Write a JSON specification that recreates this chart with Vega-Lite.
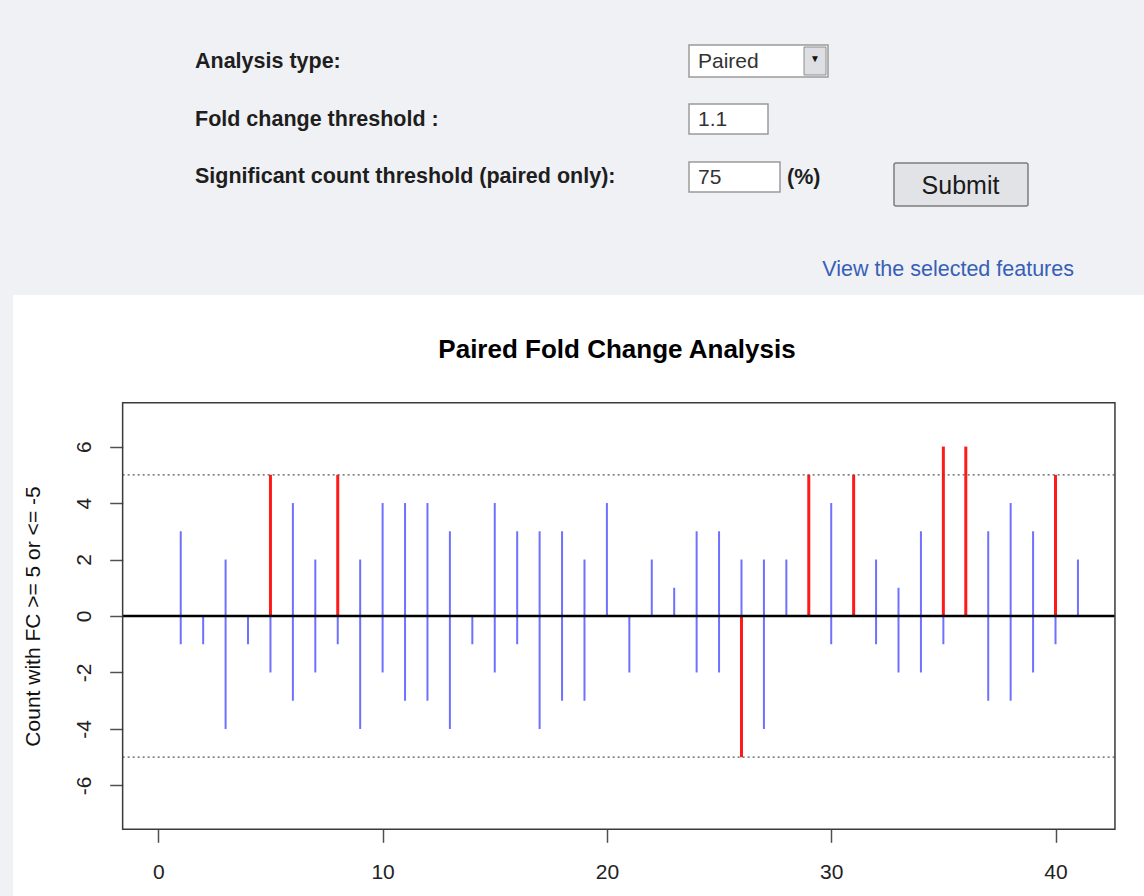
{
  "$schema": "https://vega.github.io/schema/vega-lite/v6.json",
  "padding": {"left": 13, "top": 0, "right": 0, "bottom": 0},
  "spacing": 0,
  "config": {
    "background": "#f0f1f5",
    "font": "Liberation Sans",
    "view": {"stroke": null}
  },
  "datasets": {
    "counts": [
      {"index": 1, "up": 3, "down": -1},
      {"index": 2, "up": 0, "down": -1},
      {"index": 3, "up": 2, "down": -4},
      {"index": 4, "up": 0, "down": -1},
      {"index": 5, "up": 5, "down": -2},
      {"index": 6, "up": 4, "down": -3},
      {"index": 7, "up": 2, "down": -2},
      {"index": 8, "up": 5, "down": -1},
      {"index": 9, "up": 2, "down": -4},
      {"index": 10, "up": 4, "down": -2},
      {"index": 11, "up": 4, "down": -3},
      {"index": 12, "up": 4, "down": -3},
      {"index": 13, "up": 3, "down": -4},
      {"index": 14, "up": 0, "down": -1},
      {"index": 15, "up": 4, "down": -2},
      {"index": 16, "up": 3, "down": -1},
      {"index": 17, "up": 3, "down": -4},
      {"index": 18, "up": 3, "down": -3},
      {"index": 19, "up": 2, "down": -3},
      {"index": 20, "up": 4, "down": 0},
      {"index": 21, "up": 0, "down": -2},
      {"index": 22, "up": 2, "down": 0},
      {"index": 23, "up": 1, "down": 0},
      {"index": 24, "up": 3, "down": -2},
      {"index": 25, "up": 3, "down": -2},
      {"index": 26, "up": 2, "down": -5},
      {"index": 27, "up": 2, "down": -4},
      {"index": 28, "up": 2, "down": 0},
      {"index": 29, "up": 5, "down": 0},
      {"index": 30, "up": 4, "down": -1},
      {"index": 31, "up": 5, "down": 0},
      {"index": 32, "up": 2, "down": -1},
      {"index": 33, "up": 1, "down": -2},
      {"index": 34, "up": 3, "down": -2},
      {"index": 35, "up": 6, "down": -1},
      {"index": 36, "up": 6, "down": 0},
      {"index": 37, "up": 3, "down": -3},
      {"index": 38, "up": 4, "down": -3},
      {"index": 39, "up": 3, "down": -2},
      {"index": 40, "up": 5, "down": -1},
      {"index": 41, "up": 2, "down": 0}
    ],
    "thresholds": [{"level": 5}, {"level": -5}],
    "one": [{}]
  },
  "vconcat": [
    {
      "width": 1131,
      "height": 295,
      "view": {"fill": null, "stroke": null},
      "data": {"name": "one"},
      "layer": [
        {
          "mark": {"type": "text", "text": "Analysis type:", "fontSize": 21.5, "fontWeight": "bold", "color": "#1e1e1e", "align": "left", "baseline": "middle"},
          "encoding": {
            "x": {"datum": 182, "type": "quantitative", "scale": {"domain": [0, 1131], "nice": false, "zero": false}, "axis": null},
            "y": {"datum": 62, "type": "quantitative", "scale": {"domain": [0, 295], "reverse": true, "nice": false, "zero": false}, "axis": null}
          }
        },
        {
          "mark": {"type": "text", "text": "Fold change threshold :", "fontSize": 21.5, "fontWeight": "bold", "color": "#1e1e1e", "align": "left", "baseline": "middle"},
          "encoding": {"x": {"datum": 182, "type": "quantitative"}, "y": {"datum": 120, "type": "quantitative"}}
        },
        {
          "mark": {"type": "text", "text": "Significant count threshold (paired only):", "fontSize": 21.5, "fontWeight": "bold", "color": "#1e1e1e", "align": "left", "baseline": "middle"},
          "encoding": {"x": {"datum": 182, "type": "quantitative"}, "y": {"datum": 177, "type": "quantitative"}}
        },
        {
          "mark": {"type": "rect", "fill": "white", "stroke": "#9a9a9a", "strokeWidth": 1.5},
          "encoding": {"x": {"datum": 676, "type": "quantitative"}, "x2": {"datum": 815}, "y": {"datum": 45, "type": "quantitative"}, "y2": {"datum": 77}}
        },
        {
          "mark": {"type": "rect", "fill": "#dedfe2", "stroke": "#8c8c8c", "strokeWidth": 1},
          "encoding": {"x": {"datum": 791, "type": "quantitative"}, "x2": {"datum": 813}, "y": {"datum": 47, "type": "quantitative"}, "y2": {"datum": 75}}
        },
        {
          "mark": {"type": "text", "text": "▼", "fontSize": 10, "color": "#111", "align": "center", "baseline": "middle"},
          "encoding": {"x": {"datum": 802, "type": "quantitative"}, "y": {"datum": 59, "type": "quantitative"}}
        },
        {
          "mark": {"type": "rect", "fill": "white", "stroke": "#9a9a9a", "strokeWidth": 1.5},
          "encoding": {"x": {"datum": 676, "type": "quantitative"}, "x2": {"datum": 755}, "y": {"datum": 104, "type": "quantitative"}, "y2": {"datum": 134}}
        },
        {
          "mark": {"type": "rect", "fill": "white", "stroke": "#9a9a9a", "strokeWidth": 1.5},
          "encoding": {"x": {"datum": 676, "type": "quantitative"}, "x2": {"datum": 767}, "y": {"datum": 162, "type": "quantitative"}, "y2": {"datum": 192}}
        },
        {
          "mark": {"type": "text", "text": "Paired", "fontSize": 21, "color": "#333", "align": "left", "baseline": "middle"},
          "encoding": {"x": {"datum": 685, "type": "quantitative"}, "y": {"datum": 62, "type": "quantitative"}}
        },
        {
          "mark": {"type": "text", "text": "1.1", "fontSize": 21, "color": "#333", "align": "left", "baseline": "middle"},
          "encoding": {"x": {"datum": 685, "type": "quantitative"}, "y": {"datum": 120, "type": "quantitative"}}
        },
        {
          "mark": {"type": "text", "text": "75", "fontSize": 21, "color": "#333", "align": "left", "baseline": "middle"},
          "encoding": {"x": {"datum": 685, "type": "quantitative"}, "y": {"datum": 178, "type": "quantitative"}}
        },
        {
          "mark": {"type": "text", "text": "(%)", "fontSize": 21.5, "fontWeight": "bold", "color": "#1e1e1e", "align": "left", "baseline": "middle"},
          "encoding": {"x": {"datum": 774, "type": "quantitative"}, "y": {"datum": 178, "type": "quantitative"}}
        },
        {
          "mark": {"type": "rect", "fill": "#e2e3e6", "stroke": "#7d7d7d", "strokeWidth": 1.5, "cornerRadius": 2},
          "encoding": {"x": {"datum": 881, "type": "quantitative"}, "x2": {"datum": 1015}, "y": {"datum": 163, "type": "quantitative"}, "y2": {"datum": 206}}
        },
        {
          "mark": {"type": "text", "text": "Submit", "fontSize": 25, "color": "#1a1a1a", "align": "center", "baseline": "middle"},
          "encoding": {"x": {"datum": 947.5, "type": "quantitative"}, "y": {"datum": 186, "type": "quantitative"}}
        },
        {
          "mark": {"type": "text", "text": "View the selected features", "fontSize": 21.5, "color": "#3660b5", "align": "right", "baseline": "middle"},
          "encoding": {"x": {"datum": 1061, "type": "quantitative"}, "y": {"datum": 270, "type": "quantitative"}}
        }
      ]
    },
    {
      "width": 1131,
      "height": 601,
      "view": {"fill": "white", "stroke": null},
      "layer": [
        {
          "data": {"name": "counts"},
          "mark": {"type": "rule"},
          "encoding": {
            "x": {
              "field": "index", "type": "quantitative",
              "scale": {"domain": [-6.478, 43.945], "nice": false, "zero": false},
              "axis": {"orient": "bottom", "offset": -66.7, "values": [0, 10, 20, 30, 40], "domain": false, "grid": false, "tickSize": 13, "tickColor": "#505050", "tickWidth": 1.5, "labelFontSize": 21, "labelColor": "#222", "labelPadding": 19, "labelBaseline": "top", "labelFlush": false, "labelOverlap": false, "title": null}
            },
            "y": {
              "field": "up", "type": "quantitative",
              "scale": {"domain": [-9.915, 11.367], "nice": false, "zero": false},
              "axis": {"orient": "left", "offset": -109.7, "values": [-6, -4, -2, 0, 2, 4, 6], "labelExpr": "datum.value < 0 ? '-' + abs(datum.value) : '' + datum.value", "domain": false, "grid": false, "tickSize": 13, "tickColor": "#505050", "tickWidth": 1.5, "labelFontSize": 21, "labelColor": "#222", "labelAngle": 270, "labelAlign": "center", "labelBaseline": "middle", "labelPadding": 25.5, "labelFlush": false, "labelOverlap": false, "title": "Count with FC >= 5 or <= -5", "titleFontSize": 21, "titleFontWeight": "normal", "titleColor": "#111", "titleAngle": 270, "titleAlign": "center", "titleBaseline": "middle", "titleX": -89.4, "titleY": 321}
            },
            "y2": {"datum": 0},
            "color": {"condition": {"test": "datum.up >= 5", "value": "#ff1a1a"}, "value": "#7070ff"},
            "strokeWidth": {"condition": {"test": "datum.up >= 5", "value": 3}, "value": 2}
          }
        },
        {
          "data": {"name": "counts"},
          "mark": {"type": "rule"},
          "encoding": {
            "x": {"field": "index", "type": "quantitative"},
            "y": {"field": "down", "type": "quantitative"},
            "y2": {"datum": 0},
            "color": {"condition": {"test": "datum.down <= -5", "value": "#ff1a1a"}, "value": "#7070ff"},
            "strokeWidth": {"condition": {"test": "datum.down <= -5", "value": 3}, "value": 2}
          }
        },
        {
          "data": {"name": "thresholds"},
          "mark": {"type": "rule", "color": "#555", "strokeWidth": 1.2, "strokeDash": [2, 3]},
          "encoding": {
            "x": {"datum": -1.59, "type": "quantitative"},
            "x2": {"datum": 42.65},
            "y": {"field": "level", "type": "quantitative"}
          }
        },
        {
          "data": {"name": "one"},
          "mark": {"type": "rule", "color": "black", "strokeWidth": 2.5},
          "encoding": {
            "x": {"datum": -1.59, "type": "quantitative"},
            "x2": {"datum": 42.65},
            "y": {"datum": 0, "type": "quantitative"}
          }
        },
        {
          "data": {"name": "one"},
          "mark": {"type": "rect", "fill": null, "fillOpacity": 0, "stroke": "#3a3a3a", "strokeWidth": 1.5},
          "encoding": {
            "x": {"datum": -1.59, "type": "quantitative"},
            "x2": {"datum": 42.65},
            "y": {"datum": -7.55, "type": "quantitative"},
            "y2": {"datum": 7.55}
          }
        },
        {
          "data": {"name": "one"},
          "mark": {"type": "text", "text": "Paired Fold Change Analysis", "fontSize": 26, "fontWeight": "bold", "color": "black", "align": "center", "baseline": "middle"},
          "encoding": {
            "x": {"datum": 20.45, "type": "quantitative"},
            "y": {"datum": 9.42, "type": "quantitative"}
          }
        }
      ]
    }
  ]
}
